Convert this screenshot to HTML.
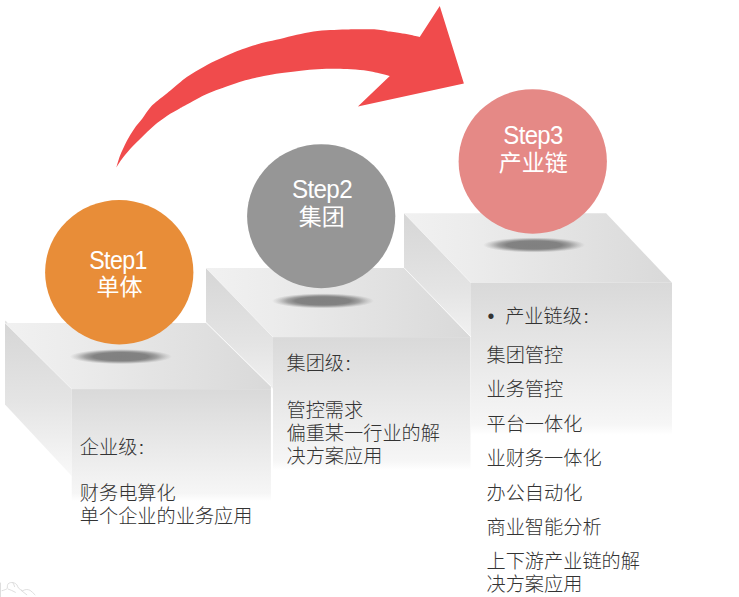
<!DOCTYPE html>
<html lang="zh-CN">
<head>
<meta charset="utf-8">
<title>Step1 Step2 Step3</title>
<style>
  html, body { margin: 0; padding: 0; background: #ffffff; }
  body { width: 739px; height: 597px; position: relative; overflow: hidden;
         font-family: "Liberation Sans", "Noto Sans CJK SC", sans-serif; }
  #stage { position: absolute; left: 0; top: 0; width: 739px; height: 597px; }
  svg { position: absolute; left: 0; top: 0; display: block; }
  .lbl { position: absolute; color: #ffffff; white-space: nowrap; line-height: 30px; height: 30px; }
  .lbl.en { font-size: 26px; letter-spacing: -0.7px; }
  .lbl.zh { font-size: 23px; transform: translateX(-50%); }
  .txt { position: absolute; color: #333333; font-weight: 300; font-size: 19.2px; line-height: 23px; white-space: nowrap; }
  .txt p { margin: 0; }
  .txt .c { margin-left: 1.5px; }
  .txt p.i { position: absolute; left: 0; }
  .txt p.b { position: absolute; left: 0; top: 0.1px; padding-left: 18.7px; }
  .txt p.b .dot { position: absolute; left: 0.9px; top: -0.6px; font-size: 19.6px; font-weight: 400; }
</style>
</head>
<body>
<div id="stage">
<svg width="739" height="597" viewBox="0 0 739 597">
  <defs>
    <linearGradient id="gTop" x1="0" y1="0" x2="1" y2="0">
      <stop offset="0" stop-color="#f1f1f1"/>
      <stop offset="0.25" stop-color="#ececec"/>
      <stop offset="0.55" stop-color="#e4e4e4"/>
      <stop offset="1" stop-color="#d9d9d9"/>
    </linearGradient>
    <linearGradient id="gFront" x1="0" y1="0" x2="0" y2="1">
      <stop offset="0" stop-color="#d9d9d9"/>
      <stop offset="0.93" stop-color="#f6f6f6"/>
      <stop offset="1" stop-color="#ffffff"/>
    </linearGradient>
    <linearGradient id="gSide1" gradientUnits="userSpaceOnUse" x1="0" y1="323" x2="0" y2="477">
      <stop offset="0" stop-color="#d6d6d6"/>
      <stop offset="0.5" stop-color="#e4e4e4"/>
      <stop offset="1" stop-color="#f9f9f9"/>
    </linearGradient>
    <linearGradient id="gSide2" gradientUnits="userSpaceOnUse" x1="0" y1="268" x2="0" y2="420">
      <stop offset="0" stop-color="#d6d6d6"/>
      <stop offset="0.5" stop-color="#e4e4e4"/>
      <stop offset="1" stop-color="#f9f9f9"/>
    </linearGradient>
    <linearGradient id="gSide3" gradientUnits="userSpaceOnUse" x1="0" y1="213.2" x2="0" y2="365.2">
      <stop offset="0" stop-color="#d6d6d6"/>
      <stop offset="0.5" stop-color="#e4e4e4"/>
      <stop offset="1" stop-color="#f9f9f9"/>
    </linearGradient>
    <radialGradient id="gSh" cx="0.5" cy="0.5" r="0.5">
      <stop offset="0" stop-color="#808080" stop-opacity="1"/>
      <stop offset="0.54" stop-color="#828282" stop-opacity="1"/>
      <stop offset="0.71" stop-color="#888888" stop-opacity="0.74"/>
      <stop offset="0.87" stop-color="#909090" stop-opacity="0.3"/>
      <stop offset="1" stop-color="#999999" stop-opacity="0"/>
    </radialGradient>
  </defs>

  <!-- step 3 box -->
  <polygon points="404,213.2 606.1,213.2 672,282.8 471,282.8" fill="url(#gTop)"/>
  <polygon points="404,213.2 471,282.8 471,338 404,268.5" fill="url(#gSide3)"/>
  <rect x="471" y="282.8" width="201" height="152" fill="url(#gFront)"/>

  <!-- step 2 box -->
  <polygon points="206,268 404,268 470.5,337.1 273,337.1" fill="url(#gTop)"/>
  <polygon points="206,268 273,337.1 273,388.7 206,323" fill="url(#gSide2)"/>
  <rect x="273" y="337.1" width="197.5" height="133" fill="url(#gFront)"/>

  <!-- step 1 box -->
  <polygon points="5,323 206,323 270.9,386.6 270.9,389.1 71.75,389.1" fill="url(#gTop)"/>
  <polygon points="5,323 71.75,389.1 71.75,476 5,404.5" fill="url(#gSide1)"/>
  <rect x="71.75" y="389.1" width="199.15" height="112" fill="url(#gFront)"/>

  <polygon points="5,320.6 7.4,322.2 7.2,323.2 5,323.2" fill="#dddddd" opacity="0.8"/>

  <!-- edge highlights -->
  <g stroke="#ffffff" stroke-width="1" stroke-opacity="0.75" fill="none">
    <line x1="206" y1="322.4" x2="271" y2="386.2"/>
    <line x1="404" y1="267.8" x2="471" y2="337"/>
    <line x1="5" y1="323" x2="71.75" y2="389.1" stroke-opacity="0.4"/>
    <line x1="206" y1="268" x2="273" y2="337.1" stroke-opacity="0.4"/>
    <line x1="404" y1="213.2" x2="471" y2="282.8" stroke-opacity="0.4"/>
  </g>

  <!-- faint corner sketch -->
  <g stroke="#d6d6d6" stroke-width="0.8" fill="none" stroke-linecap="round" stroke-linejoin="round">
    <path d="M0.5,583 L0.5,597"/>
    <path d="M2,590.7 C4.5,590 6.5,589.3 7.3,588.3 C7.3,586.3 7.4,584.8 8.1,583.8 C9.6,582.6 11.5,582.3 13,582.6 C14.8,583 16.2,583.8 17,585 C17.6,586.3 18,587.4 18.7,588.3 C20,589.3 21.3,590.2 22.7,590.7 C24.2,590 25.5,589.4 26.8,589.5 C28,589.6 29,589.8 30,590.3 C31.8,591.6 33.5,593.2 35,594.8"/>
    <path d="M8.1,589 C10.5,589.8 13,591 15.4,592.3"/>
    <path d="M13,583 C13.8,584.2 14.3,585.4 14.6,586.6"/>
    <path d="M21.1,590.3 C23,591.7 25,593.3 26.8,594.8"/>
  </g>

  <!-- shadows -->
  <ellipse cx="120.9" cy="356.6" rx="51" ry="7.6" fill="url(#gSh)"/>
  <ellipse cx="323" cy="300.9" rx="51" ry="7.6" fill="url(#gSh)"/>
  <ellipse cx="534.1" cy="245" rx="51" ry="7.6" fill="url(#gSh)"/>

  <!-- circles -->
  <ellipse cx="119.25" cy="272.25" rx="74.15" ry="72.25" fill="#e88d38"/>
  <ellipse cx="321.2" cy="216.2" rx="74.1" ry="72" fill="#969696"/>
  <ellipse cx="532.75" cy="161.45" rx="74.15" ry="72.25" fill="#e58986"/>

  <!-- arrow -->
  <path fill="#f04b4c" d="M116.3,167.5 C116.9,165.7 118.5,159.7 120.0,155.7 C121.6,151.7 124.6,144.9 126.8,140.9 C128.9,136.9 131.8,132.2 134.1,128.9 C136.4,125.6 139.6,122.2 142.2,118.8 C144.8,115.4 148.3,109.5 151.5,106.1 C154.7,102.7 160.7,98.4 163.6,96.0 C166.5,93.6 167.5,92.8 171.0,90.0 C174.5,87.2 181.9,80.5 186.8,77.0 C191.7,73.5 198.5,69.7 203.5,66.9 C208.5,64.1 214.5,61.1 220.3,58.5 C226.1,55.9 235.6,51.7 242.1,49.3 C248.6,46.9 258.1,44.1 263.8,42.6 C269.5,41.1 275.1,40.2 280.0,39.0 C284.9,37.8 291.8,35.9 296.8,34.8 C301.8,33.7 308.5,32.2 313.5,31.5 C318.5,30.8 325.3,30.4 330.3,30.1 C335.3,29.8 340.1,29.5 347.0,29.4 C353.9,29.3 369.9,29.1 376.4,29.4 C382.8,29.7 386.5,31.1 390.0,31.6 C393.5,32.1 397.0,32.5 400.0,33.0 C403.0,33.5 407.0,34.1 410.0,34.7 C413.0,35.3 418.2,36.6 419.7,36.9 L439.75,6 L463.9,83.4 L357.9,106.4 L389.8,75.9 C387.7,75.4 379.4,73.3 375.5,72.5 C371.6,71.7 368.1,70.8 363.8,70.3 C359.5,69.8 352.0,69.2 347.0,69.0 C342.0,68.8 335.3,68.6 330.3,68.7 C325.3,68.8 318.5,69.1 313.5,69.5 C308.5,69.9 301.8,70.6 296.8,71.2 C291.8,71.8 284.9,72.6 280.0,73.3 C275.1,74.0 269.5,74.9 263.8,76.1 C258.1,77.3 248.6,79.3 242.1,81.2 C235.6,83.1 226.1,86.6 220.3,88.7 C214.5,90.8 208.5,93.0 203.5,95.4 C198.5,97.8 190.4,102.6 186.8,104.6 C183.2,106.6 182.6,106.9 179.7,108.5 C176.8,110.1 171.4,113.0 167.6,115.5 C163.8,118.0 158.2,122.1 154.2,125.5 C150.2,128.9 144.4,134.7 140.8,138.2 C137.2,141.7 133.0,145.8 130.1,149.0 C127.2,152.2 123.5,156.9 121.4,159.7 C119.3,162.5 117.1,166.3 116.3,167.5 Z"/>
</svg>

<div class="lbl en" style="left:118px; top:244.5px; transform:translateX(-50%) scaleX(0.893);">Step1</div>
<div class="lbl zh" style="left:119.4px; top:271.7px;">单体</div>
<div class="lbl en" style="left:321.8px; top:174px; transform:translateX(-50%) scaleX(0.93);">Step2</div>
<div class="lbl zh" style="left:321.75px; top:201.8px;">集团</div>
<div class="lbl en" style="left:533px; top:120px; transform:translateX(-50%) scaleX(0.92);">Step3</div>
<div class="lbl zh" style="left:533.25px; top:148.2px;">产业链</div>

<div class="txt" style="left:79.8px; top:435.8px;">
  <p>企业级<span class="c">:</span></p><p>&nbsp;</p><p>财务电算化</p><p>单个企业的业务应用</p>
</div>
<div class="txt" style="left:286.5px; top:352.3px; line-height:23.3px;">
  <p>集团级<span class="c">:</span></p><p>&nbsp;</p><p>管控需求</p><p>偏重某一行业的解</p><p>决方案应用</p>
</div>
<div class="txt" style="left:486.5px; top:305px;">
  <p class="b"><span class="dot">•</span>产业链级<span class="c">:</span></p>
  <p class="i" style="top:38.9px;">集团管控</p>
  <p class="i" style="top:73.4px;">业务管控</p>
  <p class="i" style="top:108px;">平台一体化</p>
  <p class="i" style="top:141.6px;">业财务一体化</p>
  <p class="i" style="top:177px;">办公自动化</p>
  <p class="i" style="top:211px;">商业智能分析</p>
  <p class="i" style="top:244.8px;">上下游产业链的解</p>
  <p class="i" style="top:268px;">决方案应用</p>
</div>
</div>
</body>
</html>
